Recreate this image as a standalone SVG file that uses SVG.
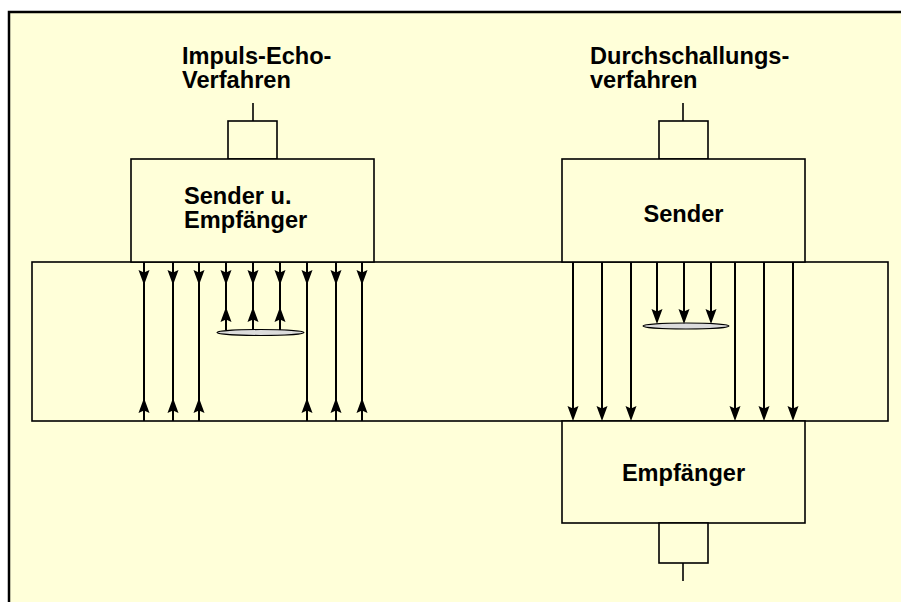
<svg xmlns="http://www.w3.org/2000/svg" xmlns:xlink="http://www.w3.org/1999/xlink" width="901" height="602" viewBox="0 0 901 602">
<defs>
<style>
.box{fill:#FFFFD9;stroke:#000;stroke-width:1.6}
.ln{stroke:#000;stroke-width:2;fill:none}
.lbl{font-family:"Liberation Sans",Arial,sans-serif;font-weight:bold;font-size:23.6px;fill:#000}
.ell{fill:#dcdcdc;stroke:#000;stroke-width:1.2}
</style>
<path id="dn" d="M0,0 L-5.5,-15 L0,-12.5 L5.5,-15 Z" fill="#000"/>
<path id="up" d="M0,0 L-5.5,15 L0,12.5 L5.5,15 Z" fill="#000"/>
</defs>
<rect x="0" y="0" width="901" height="602" fill="#fff"/>
<rect x="9" y="12" width="892" height="590" fill="#FFFFD9"/>
<path d="M9,602 V12 H901" fill="none" stroke="#000" stroke-width="2.5"/>

<g id="specimen"><rect class="box" x="32" y="262" width="856" height="159"/></g>

<g id="title-left"><text class="lbl" x="182" y="64">Impuls-Echo-<tspan x="182" dy="23.5">Verfahren</tspan></text></g>
<g id="title-right"><text class="lbl" x="590" y="64">Durchschallungs-<tspan x="590" dy="23.5">verfahren</tspan></text></g>

<g id="plug-left"><line class="ln" x1="253" y1="103" x2="253" y2="121" style="stroke-width:1.6"/><rect class="box" x="228" y="121" width="49" height="38"/></g>
<g id="sender-empfaenger"><rect class="box" x="131" y="159" width="243" height="103"/><text class="lbl" x="184" y="204">Sender u.<tspan x="184" dy="24">Empfänger</tspan></text></g>

<g id="plug-right"><line class="ln" x1="683" y1="103" x2="683" y2="121" style="stroke-width:1.6"/><rect class="box" x="659" y="121" width="49" height="38"/></g>
<g id="sender"><rect class="box" x="562" y="159" width="243" height="103"/><text class="lbl" x="683.5" y="222" text-anchor="middle">Sender</text></g>

<g id="empfaenger"><rect class="box" x="562" y="421" width="243" height="102"/><text class="lbl" x="683.5" y="481" text-anchor="middle">Empfänger</text></g>
<g id="plug-bottom"><rect class="box" x="659" y="523" width="49" height="40"/><line class="ln" x1="683" y1="563" x2="683" y2="581" style="stroke-width:1.6"/></g>

<g id="flaw-left"><ellipse class="ell" cx="260.5" cy="332.5" rx="43.5" ry="3"/></g>
<g id="flaw-right"><ellipse class="ell" cx="686" cy="326" rx="43" ry="3"/></g>

<g id="connectors">
<g class="ln">
<line x1="144" y1="262" x2="144" y2="421"/>
<line x1="173" y1="262" x2="173" y2="421"/>
<line x1="199" y1="262" x2="199" y2="421"/>
<line x1="307" y1="262" x2="307" y2="421"/>
<line x1="336" y1="262" x2="336" y2="421"/>
<line x1="362" y1="262" x2="362" y2="421"/>
<line x1="226" y1="262" x2="226" y2="330"/>
<line x1="253" y1="262" x2="253" y2="330"/>
<line x1="280" y1="262" x2="280" y2="330"/>
<line x1="573" y1="262" x2="573" y2="412"/>
<line x1="602" y1="262" x2="602" y2="412"/>
<line x1="631" y1="262" x2="631" y2="412"/>
<line x1="735" y1="262" x2="735" y2="412"/>
<line x1="764" y1="262" x2="764" y2="412"/>
<line x1="793" y1="262" x2="793" y2="412"/>
<line x1="657" y1="262" x2="657" y2="315"/>
<line x1="684" y1="262" x2="684" y2="315"/>
<line x1="711" y1="262" x2="711" y2="315"/>
</g>
<use xlink:href="#dn" x="144" y="285"/><use xlink:href="#dn" x="173" y="285"/><use xlink:href="#dn" x="199" y="285"/>
<use xlink:href="#dn" x="226" y="285"/><use xlink:href="#dn" x="253" y="285"/><use xlink:href="#dn" x="280" y="285"/>
<use xlink:href="#dn" x="307" y="285"/><use xlink:href="#dn" x="336" y="285"/><use xlink:href="#dn" x="362" y="285"/>
<use xlink:href="#up" x="226" y="307"/><use xlink:href="#up" x="253" y="307"/><use xlink:href="#up" x="280" y="307"/>
<use xlink:href="#up" x="144" y="398"/><use xlink:href="#up" x="173" y="398"/><use xlink:href="#up" x="199" y="398"/>
<use xlink:href="#up" x="307" y="398"/><use xlink:href="#up" x="336" y="398"/><use xlink:href="#up" x="362" y="398"/>
<use xlink:href="#dn" x="573" y="421"/><use xlink:href="#dn" x="602" y="421"/><use xlink:href="#dn" x="631" y="421"/>
<use xlink:href="#dn" x="735" y="421"/><use xlink:href="#dn" x="764" y="421"/><use xlink:href="#dn" x="793" y="421"/>
<use xlink:href="#dn" x="657" y="324"/><use xlink:href="#dn" x="684" y="324"/><use xlink:href="#dn" x="711" y="324"/>
</g>
</svg>
